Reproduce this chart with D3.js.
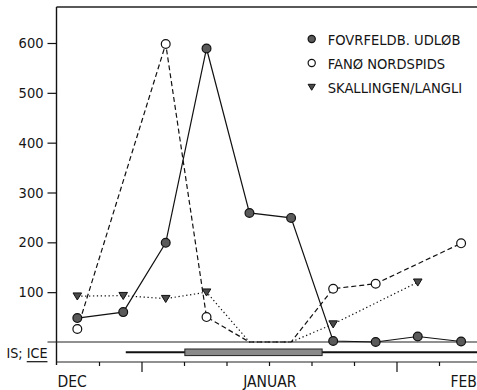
<!DOCTYPE html>
<html><head><meta charset="utf-8">
<script src="https://cdn.jsdelivr.net/npm/d3@7"></script>
<style>
html,body{margin:0;padding:0;background:#fff;}
svg{display:block;}
text{font-family:"DejaVu Sans Condensed","DejaVu Sans",sans-serif;font-stretch:condensed;fill:#151515;}
</style></head><body>
<svg id="chart" width="477" height="390"></svg>
<script>
// Sampling dates, counted in weeks from the start of December
const sampleWeeks = [0.49, 1.57, 2.57, 3.53, 4.54, 5.52, 6.51, 7.51, 8.50, 9.52];
const fovrfeldb  = [48, 60, 199, 589, 259, 249, 2, 0, 11, 1];
const fano       = [26, null, 598, 50, 0, 0, 107, 117, null, 198];
const skallingen = [92, 93, 87, 100, 0, 0, 36, null, 120, null];
const seriesNames = ["FOVRFELDB. UDLØB", "FANØ NORDSPIDS", "SKALLINGEN/LANGLI"];
const yTicks = [100, 200, 300, 400, 500, 600];
const weekTicks = [1, 2, 3, 4, 5, 6, 7, 8, 9];
const longTicks = [2, 8];
const monthLabels = ["DEC", "JANUAR", "FEB"];
const monthLabelWeeks = [0.37, 5.02, 9.58];
// Ice cover: light ice from the first week on, heavy ice in midwinter
const iceLight = [1.63, 9.95];
const iceHeavy = [3.02, 6.25];

const svg = d3.select("#chart");
const padL = 56.5, padR = 477, padT = 7, axisY = 362;

const x = d3.scaleLinear().domain([0, 9.9]).range([padL, padL + 42.5 * 9.9]);
const y = d3.scaleLinear().domain([0, 600]).range([342, 43]);

// frame: top rule, left axis, bottom axis
svg.append("line").attr("x1", padL).attr("x2", padR).attr("y1", padT).attr("y2", padT)
  .attr("stroke", "#222").attr("stroke-width", 1.3);
svg.append("line").attr("x1", padL).attr("x2", padL).attr("y1", padT).attr("y2", axisY + 3)
  .attr("stroke", "#111").attr("stroke-width", 1.4);
svg.append("line").attr("x1", padL).attr("x2", padR).attr("y1", axisY).attr("y2", axisY)
  .attr("stroke", "#222").attr("stroke-width", 1.2);
// zero line
svg.append("line").attr("x1", padL - 9).attr("x2", padR).attr("y1", y(0)).attr("y2", y(0))
  .attr("stroke", "#222").attr("stroke-width", 1.1);

// y axis
const yAxis = svg.append("g").attr("transform", `translate(${padL},0)`)
  .call(d3.axisLeft(y).tickValues(yTicks).tickSize(9).tickPadding(4));
yAxis.select(".domain").remove();
yAxis.selectAll("line").attr("stroke", "#111").attr("stroke-width", 1.2);
yAxis.selectAll("text").attr("font-size", 14.5).attr("font-family", null).attr("fill", "#151515");

// x axis ticks (weeks), longer at two marks
const xAxis = svg.append("g").attr("transform", `translate(0,${axisY})`)
  .call(d3.axisBottom(x).tickValues(weekTicks).tickSize(4).tickFormat(""));
xAxis.select(".domain").remove();
xAxis.selectAll(".tick line")
  .attr("y2", d => longTicks.includes(d) ? 10 : 4)
  .attr("stroke", "#111").attr("stroke-width", 1.2);

svg.selectAll("text.month").data(monthLabels).join("text")
  .attr("class", "month")
  .attr("x", (d, i) => x(monthLabelWeeks[i]))
  .attr("y", 386.5)
  .attr("text-anchor", "middle")
  .attr("font-size", 15.5)
  .text(d => d);

// ice bar
svg.append("line").attr("x1", x(iceLight[0])).attr("x2", x(iceLight[1]))
  .attr("y1", 352.3).attr("y2", 352.3).attr("stroke", "#111").attr("stroke-width", 2);
svg.append("rect").attr("x", x(iceHeavy[0])).attr("width", x(iceHeavy[1]) - x(iceHeavy[0]))
  .attr("y", 349).attr("height", 6.6)
  .attr("fill", "#8a8a8a").attr("stroke", "#222").attr("stroke-width", 1);

// "IS; ICE" label, with the English word underlined
const iceLabel = svg.append("text").attr("x", 6.5).attr("y", 358.3).attr("font-size", 14.2);
iceLabel.append("tspan").text("IS; ");
const iceWord = iceLabel.append("tspan").text("ICE");
{
  const full = iceLabel.node().getComputedTextLength();
  const w = iceWord.node().getComputedTextLength();
  svg.append("line").attr("x1", 6.5 + full - w).attr("x2", 6.5 + full)
    .attr("y1", 361.7).attr("y2", 361.7).attr("stroke", "#111").attr("stroke-width", 1.2);
}

// series
const series = [
  {name: seriesNames[0], values: fovrfeldb, dash: null, marker: "filled", zeroMarks: true},
  {name: seriesNames[1], values: fano, dash: "5,3", marker: "open", zeroMarks: false},
  {name: seriesNames[2], values: skallingen, dash: "1.3,2.6", marker: "tri", zeroMarks: false}
];

const line = d3.line().x(d => x(d.w)).y(d => y(d.v));

function drawMarker(g, type, cx, cy, big) {
  const r = big ? 4.4 : 3.6;
  if (type === "filled") {
    g.append("circle").attr("cx", cx).attr("cy", cy).attr("r", r)
      .attr("fill", "#5a5a5a").attr("stroke", "#111").attr("stroke-width", 1.2);
  } else if (type === "open") {
    g.append("circle").attr("cx", cx).attr("cy", cy).attr("r", r)
      .attr("fill", "#fff").attr("stroke", "#111").attr("stroke-width", 1.2);
  } else {
    const s = big ? 4.3 : 3.6;
    g.append("path")
      .attr("d", `M${cx - s},${cy - s * 0.75}L${cx + s},${cy - s * 0.75}L${cx},${cy + s * 0.9}Z`)
      .attr("fill", "#4a4a4a").attr("stroke", "#111").attr("stroke-width", 1);
  }
}

// draw in reverse order so the solid series sits on top
series.slice().reverse().forEach(s => {
  const pts = s.values.map((v, i) => ({w: sampleWeeks[i], v})).filter(d => d.v !== null);
  svg.append("path").datum(pts).attr("d", line)
    .attr("fill", "none").attr("stroke", "#111").attr("stroke-width", 1.2)
    .attr("stroke-dasharray", s.dash);
});
const mg = svg.append("g");
series.slice().reverse().forEach(s => {
  s.values.forEach((v, i) => {
    if (v === null) return;
    if (v === 0 && !s.zeroMarks) return;
    drawMarker(mg, s.marker, x(sampleWeeks[i]), y(v), true);
  });
});

// legend
const legendRows = [39, 63, 87];
series.forEach((s, i) => {
  drawMarker(svg, s.marker, 311.7, legendRows[i], false);
  svg.append("text").attr("x", 327.7).attr("y", legendRows[i] + 6.2)
    .attr("font-size", 14.6).text(s.name);
});
</script>
</body></html>
